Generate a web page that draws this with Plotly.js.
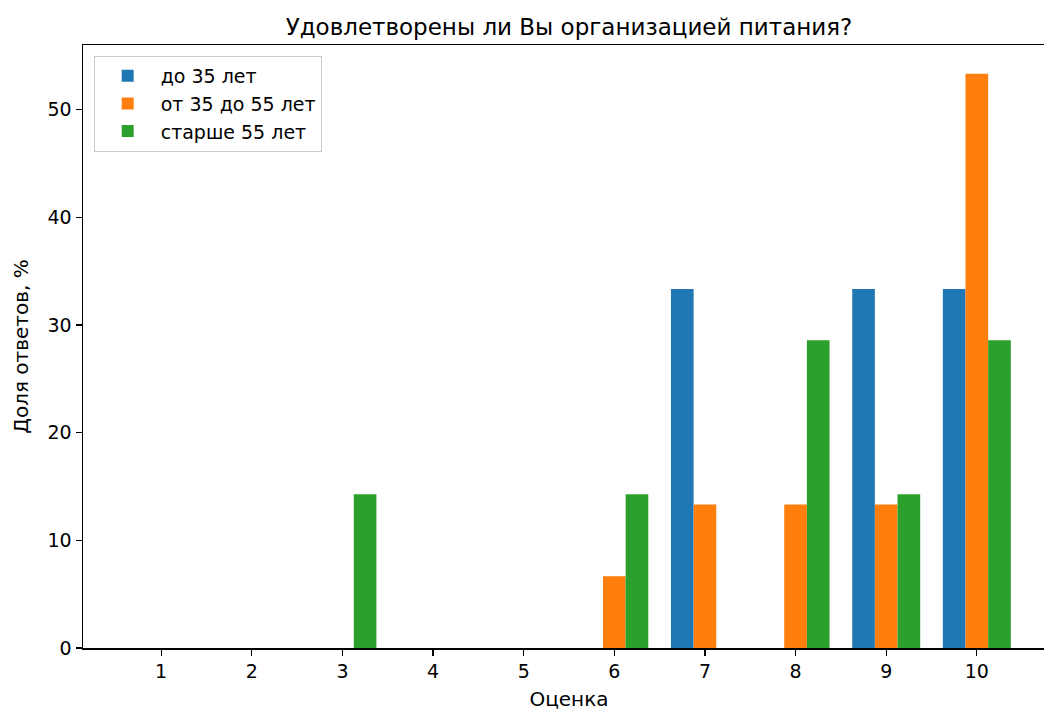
<!DOCTYPE html>
<html>
<head>
<meta charset="utf-8">
<script src="https://cdn.plot.ly/plotly-3.0.1.min.js"></script>
<style>
html,body{margin:0;padding:0;overflow:hidden;background:#fff;}
#chart{width:1066px;height:711px;}
</style>
</head>
<body>
<div id="chart"></div>
<script>
const scores = [1, 2, 3, 4, 5, 6, 7, 8, 9, 10];
const seriesNames = ["до 35 лет", "от 35 до 55 лет", "старше 55 лет"];
const under35 = [0, 0, 0, 0, 0, 0, 33.33, 0, 33.33, 33.33];
const from35to55 = [0, 0, 0, 0, 0, 6.67, 13.33, 13.33, 13.33, 53.33];
const over55 = [0, 0, 14.29, 0, 0, 14.29, 0, 28.57, 14.29, 28.57];
const colors = ["#1f77b4", "#ff7f0e", "#2ca02c"];

const allSeries = [under35, from35to55, over55];
const traces = allSeries.map((vals, i) => ({
  type: "bar",
  x: scores,
  y: vals,
  name: seriesNames[i],
  marker: {color: colors[i], line: {width: 0}},
  hoverinfo: "skip"
}));

const font = "DejaVu Sans, sans-serif";
const layout = {
  width: 1066,
  height: 711,
  margin: {l: 83, r: 11, t: 45, b: 63},
  paper_bgcolor: "#fff",
  plot_bgcolor: "#fff",
  barmode: "group",
  bargap: 0.25,
  bargroupgap: 0,
  showlegend: true,
  title: {text: "Удовлетворены ли Вы организацией питания?", font: {family: font, size: 23, color: "#000"}, x: 0.5, xref: "paper", y: 0.962, yanchor: "middle"},
  legend: {
    x: 0.011, y: 0.982, xanchor: "left", yanchor: "top",
    bgcolor: "rgba(255,255,255,0.8)", bordercolor: "#cccccc", borderwidth: 1,
    font: {family: font, size: 19, color: "#000"},
    traceorder: "normal", itemwidth: 56
  },
  xaxis: {
    range: [0.1375, 10.8625],
    tickvals: scores,
    ticktext: scores.map(String),
    showgrid: false, zeroline: false,
    showline: true, linecolor: "#000", linewidth: 1.5, mirror: true,
    ticks: "outside", ticklen: 6, tickwidth: 1.3, tickcolor: "#000",
    tickfont: {family: font, size: 19, color: "#000"},
    title: {text: "Оценка", font: {family: font, size: 20, color: "#000"}, standoff: 10}
  },
  yaxis: {
    range: [0, 56],
    tickvals: [0, 10, 20, 30, 40, 50],
    showgrid: false, zeroline: false,
    showline: true, linecolor: "#000", linewidth: 1.5, mirror: true,
    ticks: "outside", ticklen: 6, tickwidth: 1.3, tickcolor: "#000",
    tickfont: {family: font, size: 19, color: "#000"},
    title: {text: "Доля ответов, %", font: {family: font, size: 20, color: "#000"}, standoff: 13}
  }
};

Plotly.newPlot("chart", traces, layout, {displayModeBar: false, staticPlot: true});
</script>
</body>
</html>
